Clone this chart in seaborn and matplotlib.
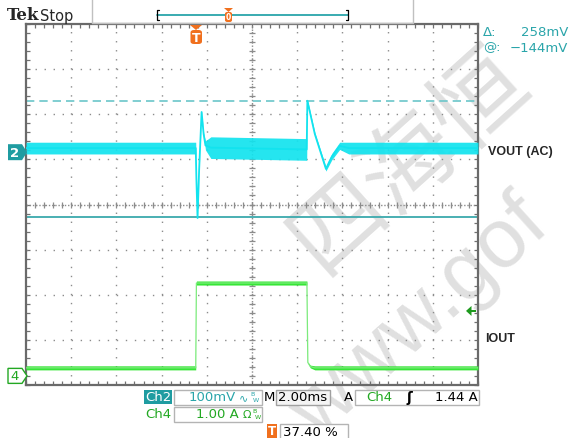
import matplotlib
matplotlib.use('Agg')
import matplotlib.pyplot as plt
from matplotlib.patches import Polygon, Rectangle, FancyBboxPatch
import numpy as np
import pandas as pd
import seaborn as sns

# scope settings
time_per_div = 2.0      # ms/div
trig_pos = 0.374        # trigger position, fraction of record
ch2_scale = 100.0       # mV/div
ch4_scale = 1.0         # A/div
ch2_ground = 1.16       # div above centre
ch4_ground = -3.80      # div
trig_level = 1.44       # A
cursor_at = -144        # mV
cursor_delta = 258      # mV

# Ch2 VOUT (AC): trace centre and half width of the noise band
ch2_t = [-7.48, 0.03, 0.06, 0.11, 0.18, 0.29, 0.38, 0.46, 0.70, 4.94, 4.97, 5.30, 5.79, 6.05, 6.40, 6.80, 12.52]
ch2_mv = [9, 9, -60, -146, -40, 89, 40, 15, 10, 6, 114, 40, -37, -10, 14, 9, 9]
ch2_hw = [13, 13, 2, 2, 2, 2, 3, 10, 24, 24, 3, 4, 5, 7, 8, 13, 13]

# Ch4 IOUT
ch4_t = [-7.48, 0.03, 0.06, 4.95, 4.99, 5.10, 5.30, 12.52]
ch4_a = [0.18, 0.18, 2.06, 2.06, 0.30, 0.21, 0.18, 0.18]
ch4_hw = [0.045, 0.045, 0.045, 0.045, 0.01, 0.03, 0.045, 0.045]

cyan = '#12E3EE'
teal = '#2AA5AA'
green = '#36E636'
dgreen = '#22A822'
orange = '#F0701E'

sns.set_style('white')
plt.rcParams['font.family'] = ['DejaVu Sans']

W, H = 575, 439
fig = plt.figure(figsize=(W / 100, H / 100), dpi=100)


def fx(x):
    return x / W


def fy(y):
    return 1 - y / H


def box(x0, y0, x1, y1, fc='white', ec='#b4b4b4', lw=1.0, z=1):
    fig.add_artist(Rectangle((fx(x0), fy(y1)), (x1 - x0) / W, (y1 - y0) / H,
                             transform=fig.transFigure, fc=fc, ec=ec, lw=lw, zorder=z))


def poly(pts, fc, ec='none', lw=1.0, z=3):
    fig.add_artist(Polygon([(fx(x), fy(y)) for x, y in pts], closed=True,
                           transform=fig.transFigure, fc=fc, ec=ec, lw=lw, zorder=z))


def txt(x, y, s, **kw):
    kw.setdefault('fontsize', 9)
    kw.setdefault('va', 'center')
    kw.setdefault('zorder', 5)
    fig.text(fx(x), fy(y), s, **kw)


# watermark
fig.text(fx(410), fy(160), '四海恒', rotation=42, rotation_mode='anchor', fontsize=68,
         color='#e0e0e0', ha='center', va='center', family=['Noto Sans CJK SC'], zorder=-5)
fig.text(fx(318), fy(440), 'www.gof', rotation=42, rotation_mode='anchor', fontsize=60,
         color='#e0e0e0', ha='left', va='baseline', family=['Liberation Sans'], zorder=-5)

t0 = -trig_pos * 10 * time_per_div
t1 = t0 + 10 * time_per_div
ax = fig.add_axes([fx(26), fy(386), 452 / W, 361 / H])
ax.set_facecolor('none')

# graticule
xs = t0 + time_per_div * np.arange(11)
ax.vlines(xs[1:-1], -4, 4, colors='#8c8c8c', linestyles=[(0, (1, 5.5))], lw=1.0, zorder=1)
ax.hlines(np.arange(-3, 4), t0, t1, colors='#8c8c8c', linestyles=[(0, (1, 5.5))], lw=1.0, zorder=1)
xc = t0 + 5 * time_per_div
ax.axvline(xc, color='#8c8c8c', ls=(0, (1, 1.3)), lw=1.0, zorder=1)
ax.axhline(0, color='#8c8c8c', ls=(0, (1, 1.3)), lw=1.0, zorder=1)
minor_x = t0 + 0.2 * time_per_div * np.arange(1, 50)
minor_y = -4 + 0.2 * np.arange(1, 40)
ax.scatter(minor_x, np.zeros_like(minor_x), marker='|', s=18, color='#8c8c8c', lw=0.9, zorder=1)
ax.scatter(np.full_like(minor_y, xc), minor_y, marker='_', s=18, color='#8c8c8c', lw=0.9, zorder=1)

# cursors
ax.axhline(ch2_ground + cursor_at / ch2_scale, color='#3AA9AD', lw=1.3, zorder=2)
ax.axhline(ch2_ground + (cursor_at + cursor_delta) / ch2_scale, color='#6BC6CA',
           lw=1.2, ls=(0, (5, 3)), zorder=2)

# Ch4 trace
df4 = pd.DataFrame({'t': ch4_t, 'a': ch4_a, 'hw': ch4_hw})
df4['y'] = ch4_ground + df4.a / ch4_scale
ax.fill_between(df4.t, ch4_ground + (df4.a - df4.hw) / ch4_scale,
                ch4_ground + (df4.a + df4.hw) / ch4_scale, color=green, lw=0, zorder=3)
sns.lineplot(data=df4, x='t', y='y', ax=ax, color='#7CEB7C', lw=0.9, sort=False,
             estimator=None, zorder=3)

# Ch2 trace
df2 = pd.DataFrame({'t': ch2_t, 'mv': ch2_mv, 'hw': ch2_hw})
df2['y'] = ch2_ground + df2.mv / ch2_scale
ax.fill_between(df2.t, ch2_ground + (df2.mv - df2.hw) / ch2_scale,
                ch2_ground + (df2.mv + df2.hw) / ch2_scale, color=cyan, lw=0, alpha=0.92, zorder=4)
sns.lineplot(data=df2, x='t', y='y', ax=ax, color=cyan, lw=1.3, sort=False,
             estimator=None, zorder=4)

ax.set_xlim(t0, t1)
ax.set_ylim(-4, 4)
ax.set_xlabel('')
ax.set_ylabel('')
ax.set_xticks(xs)
ax.set_yticks(np.arange(-4, 5))
ax.set_xticks(t0 + 0.2 * time_per_div * np.arange(51), minor=True)
ax.set_yticks(-4 + 0.2 * np.arange(41), minor=True)
ax.tick_params(which='both', direction='in', length=3, width=0.9, color='#707070',
               top=True, right=True, bottom=True, left=True,
               labelbottom=False, labelleft=False)
for sp in ax.spines.values():
    sp.set_color('#6a6a6a')
    sp.set_linewidth(1.6)

# header
txt(7, 16, 'Tek', fontsize=12, fontweight='bold', family=['DejaVu Serif'])
txt(40, 16, 'Stop', fontsize=10.5)
fig.add_artist(plt.Line2D([fx(92), fx(92)], [fy(0), fy(24)], color='#c0c0c0', lw=1, transform=fig.transFigure))
fig.add_artist(plt.Line2D([fx(413), fx(413)], [fy(0), fy(24)], color='#c0c0c0', lw=1, transform=fig.transFigure))
fig.add_artist(plt.Line2D([fx(92), fx(413)], [fy(23.5), fy(23.5)], color='#c0c0c0', lw=1, transform=fig.transFigure))
fig.add_artist(plt.Line2D([fx(157), fx(348)], [fy(15.5), fy(15.5)], color=teal, lw=1.3, transform=fig.transFigure))
for bx, d in ((157, 2), (348, -2)):
    fig.add_artist(plt.Line2D([fx(bx + d), fx(bx), fx(bx), fx(bx + d)], [fy(11), fy(11), fy(21), fy(21)],
                              color='black', lw=0.9, transform=fig.transFigure))
poly([(224, 9), (233, 9), (228.5, 13)], orange, z=4)
fig.add_artist(FancyBboxPatch((fx(225), fy(23)), 7 / W, 10 / H, boxstyle='round,pad=0,rounding_size=0.004',
                              transform=fig.transFigure, fc=orange, ec='none', zorder=4))
txt(228.5, 18, '0', fontsize=5.5, color='white', ha='center', fontweight='bold')

# trigger position marker
poly([(190, 26), (202, 26), (196, 31)], orange, z=6)
fig.add_artist(FancyBboxPatch((fx(190.5), fy(45)), 11.5 / W, 14 / H, boxstyle='round,pad=0,rounding_size=0.006',
                              transform=fig.transFigure, fc=orange, ec='none', zorder=6))
txt(196.3, 38.5, 'T', fontsize=9, color='white', ha='center', fontweight='bold', zorder=7)

# cursor readout
txt(483, 33, 'Δ:', fontsize=9.5, color=teal)
txt(568, 33, f'{cursor_delta}mV', fontsize=9.5, color=teal, ha='right')
txt(483, 48, '@:', fontsize=9.5, color=teal)
txt(568, 48, f'\u2212{abs(cursor_at)}mV', fontsize=9.5, color=teal, ha='right')

# channel labels
txt(488, 152, 'VOUT (AC)', fontsize=9, fontweight='bold', family=['Liberation Sans'])
txt(485, 339, 'IOUT', fontsize=9, fontweight='bold', family=['Liberation Sans'])

# ground markers
g2 = 205.5 - ch2_ground * 45.1
g4 = 205.5 - ch4_ground * 45.1
poly([(8, g2 - 8), (22, g2 - 8), (27, g2), (22, g2 + 8), (8, g2 + 8)], '#1F9CA1')
txt(15, g2, '2', fontsize=9.5, color='white', fontweight='bold', ha='center')
poly([(8, g4 - 7.5), (22, g4 - 7.5), (27, g4), (22, g4 + 7.5), (8, g4 + 7.5)], 'white', ec=dgreen, lw=1)
txt(15, g4, '4', fontsize=9.5, color=dgreen, ha='center')

# trigger level arrow
gt = 205.5 - (ch4_ground + trig_level / ch4_scale) * 45.1
poly([(466, gt), (471.5, gt - 5), (471.5, gt + 5)], '#1E9A1E', z=6)
poly([(471, gt - 1.3), (476, gt - 1.3), (476, gt + 1.3), (471, gt + 1.3)], '#1E9A1E', z=6)

# bottom readouts
box(144, 391, 172, 405, fc='#1F9CA1', ec='none')
txt(158, 398, 'Ch2', color='white', ha='center', fontsize=9.5)
box(174, 391, 262, 406)
txt(236, 398, '100mV', color=teal, ha='right', fontsize=9.5)
txt(239, 398, '\u223f', color=teal, fontsize=8)
txt(250, 395, 'B', color=teal, fontsize=4.5)
txt(253, 401, 'W', color=teal, fontsize=4.5)
txt(264, 398, 'M', color='black', fontsize=9.5)
box(276, 391, 330, 406, fc='#f4f4f4', ec='#a0a0a0')
txt(303, 398, '2.00ms', color='black', ha='center', fontsize=9.5)
txt(344, 398, 'A', color='black', fontsize=9.5)
box(355, 391, 479, 406)
txt(366, 398, 'Ch4', color=dgreen, fontsize=9.5)
txt(406, 398, '\u0283', color='black', fontsize=10, fontweight='bold')
txt(478, 398, f'{trig_level:.2f} A', color='black', ha='right', fontsize=9.5)

txt(145, 415, 'Ch4', color=dgreen, fontsize=9.5)
box(174, 408, 262, 423)
txt(239, 415, f'{ch4_scale:.2f} A', color=dgreen, ha='right', fontsize=9.5)
txt(243, 415, '\u03a9', color=dgreen, fontsize=8)
txt(252, 412, 'B', color=dgreen, fontsize=4.5)
txt(255, 418, 'W', color=dgreen, fontsize=4.5)

box(266.5, 425, 276.5, 439, fc=orange, ec='none')
txt(271.5, 432, 'T', color='white', ha='center', fontsize=8.5, fontweight='bold')
box(280, 425, 348, 440)
txt(283, 432.5, f'{trig_pos * 100:.2f} %', color='black', fontsize=9.5)

fig.savefig('out.png', dpi=100)
